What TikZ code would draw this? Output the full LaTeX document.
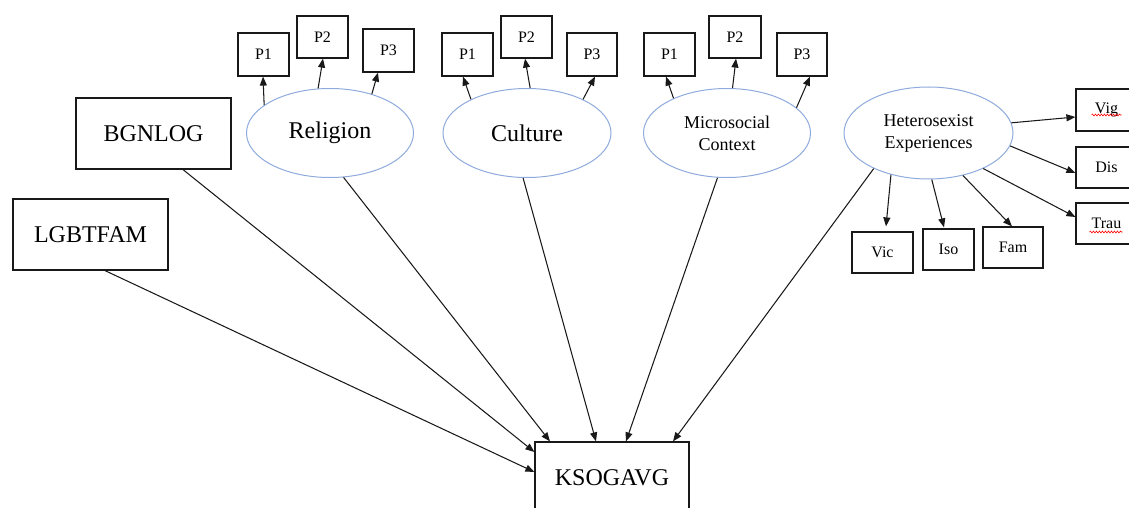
\documentclass[tikz,border=0pt]{standalone}
\usepackage{fontspec}
\setmainfont{Liberation Serif}
\usetikzlibrary{arrows.meta,shapes.geometric,decorations.pathmorphing}
\definecolor{ellblue}{RGB}{143,170,220}
\definecolor{linegray}{RGB}{25,25,25}
\tikzset{
  bigbox/.style={draw=linegray,line width=1.2pt,minimum width=155pt,minimum height=71pt,inner sep=0pt,font=\fontsize{24}{26}\selectfont},
  pbox/.style={draw=linegray,line width=1.2pt,minimum width=51pt,minimum height=42pt,inner sep=0pt,font=\fontsize{16}{18}\selectfont},
  latent/.style={ellipse,draw=ellblue,line width=1pt,minimum width=167pt,minimum height=89pt,inner sep=0pt,align=center},
  conn/.style={draw=linegray,line width=1.05pt,-{Triangle[length=9pt,width=7pt]}},
  squig/.style={draw=red,line width=0.6pt,decorate,decoration={snake,amplitude=0.9pt,segment length=3pt}}
}
\begin{document}
\begin{tikzpicture}[x=1pt,y=-1pt]
\useasboundingbox (0,0) rectangle (1129,508);
% observed boxes
\node[bigbox] (bgn) at (153.5,133.5) {BGNLOG};
\node[bigbox] (lgbt) at (90.5,234.5) {LGBTFAM};
\node[bigbox,minimum width=154pt] (ksog) at (612,477.5) {KSOGAVG};
% latent ellipses
\node[latent,font=\fontsize{24}{26}\selectfont] (rel) at (330,133) {\raisebox{-2pt}{Religion}};
\node[latent,font=\fontsize{24}{26}\selectfont,minimum width=168pt] (cul) at (527,133) {Culture};
\node[latent,font=\fontsize{18}{22}\selectfont] (mic) at (727,133) {Microsocial\\Context};
\node[latent,font=\fontsize{18}{22}\selectfont,minimum width=169pt,minimum height=92pt] (het) at (928.5,133) {Heterosexist\\Experiences};
% indicators religion
\node[pbox,minimum height=43pt] (rp1) at (263.5,54.5) {P1};
\node[pbox] (rp2) at (322.5,37) {P2};
\node[pbox,minimum height=43pt] (rp3) at (388.5,50.5) {P3};
% culture
\node[pbox,minimum height=43pt] (cp1) at (467.5,54.5) {P1};
\node[pbox] (cp2) at (526.5,37) {P2};
\node[pbox,minimum height=43pt,minimum width=50pt] (cp3) at (592,54.5) {P3};
% microsocial
\node[pbox,minimum height=43pt] (mp1) at (669.5,54.5) {P1};
\node[pbox,minimum width=52pt] (mp2) at (735,37) {P2};
\node[pbox,minimum height=43pt,minimum width=50pt] (mp3) at (802,54.5) {P3};
% heterosexist
\node[pbox,minimum width=61pt] (vig) at (1106.5,110) {Vig};
\node[pbox,minimum width=61pt,minimum height=41pt] (dis) at (1106.5,167.5) {Dis};
\node[pbox,minimum width=61pt,minimum height=41pt] (trau) at (1106.5,223.5) {Trau};
\node[pbox,minimum width=61pt,minimum height=41pt] (vic) at (882.5,252.5) {Vic};
\node[pbox,minimum width=51pt,minimum height=41pt] (iso) at (948.5,249.5) {Iso};
\node[pbox,minimum width=60pt,minimum height=41pt] (fam) at (1013,247.5) {Fam};
% spell-check squiggles
\draw[squig] ([xshift=-15pt,yshift=-5pt]vig.center) -- ([xshift=15pt,yshift=-5pt]vig.center);
\draw[squig] ([xshift=-17pt,yshift=-8.5pt]trau.center) -- ([xshift=16pt,yshift=-8.5pt]trau.center);
% loadings
\draw[conn] (rel.157) -- ([xshift=-0.5pt]rp1.south);
\draw[conn] (rel.105) -- ([xshift=0.5pt]rp2.south);
\draw[conn] (rel.43) -- ([xshift=-10.5pt]rp3.south);
\draw[conn] (cul.149) -- ([xshift=-4.5pt]cp1.south);
\draw[conn] (cul.86) -- ([xshift=-1.5pt]cp2.south);
\draw[conn] (cul.31) -- ([xshift=3pt]cp3.south);
\draw[conn] (mic.147) -- ([xshift=-3.5pt]mp1.south);
\draw[conn] (mic.83) -- ([xshift=1pt]mp2.south);
\draw[conn] (mic.20) -- ([xshift=8pt]mp3.south);
\draw[conn] (het.7) -- ([yshift=-7pt]vig.west);
\draw[conn] (het.-9) -- ([yshift=-5.5pt]dis.west);
\draw[conn] (het.-33) -- ([yshift=6.5pt]trau.west);
\draw[conn] (het.-51) -- ([xshift=-1pt]fam.north);
\draw[conn] (het.-86) -- ([xshift=-4.5pt,yshift=1pt]iso.north);
\draw[conn] (het.-132) -- ([xshift=3.5pt,yshift=5pt]vic.north);
% structural paths
\draw[conn] ([xshift=14.5pt]lgbt.south) -- ([yshift=5.5pt]ksog.west);
\draw[conn] ([xshift=29.5pt]bgn.south) -- ([yshift=25.5pt]ksog.west);
\draw[conn] (rel.-73) -- ([xshift=-62pt]ksog.north);
\draw[conn] (cul.-95) -- ([xshift=-16pt]ksog.north);
\draw[conn] (mic.-102) -- ([xshift=14pt]ksog.north);
\draw[conn] (het.-147) -- ([xshift=61pt]ksog.north);
\end{tikzpicture}
\end{document}
